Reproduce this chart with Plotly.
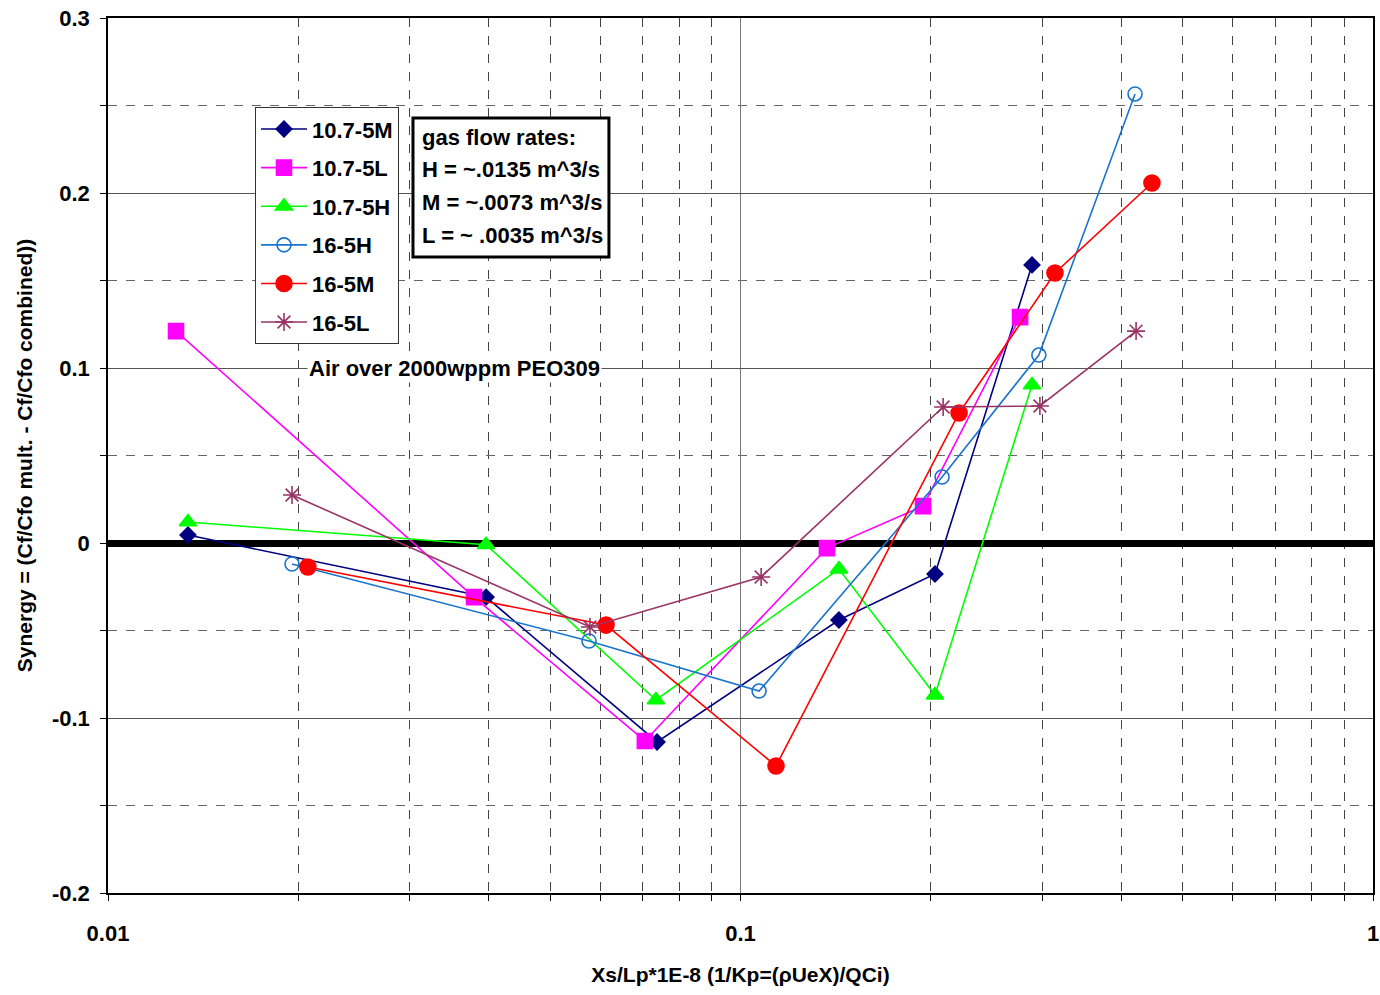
import plotly.graph_objects as go

# Synergy vs. nondimensional polymer-injection parameter, six test conditions
x_107_5M = [0.01338, 0.0396, 0.0738, 0.1431, 0.2030, 0.2890]
y_107_5M = [0.0046, -0.0309, -0.1137, -0.0440, -0.0177, 0.1589]

x_107_5L = [0.01281, 0.0379, 0.0706, 0.1370, 0.1944, 0.2767]
y_107_5L = [0.1211, -0.0309, -0.1131, -0.0029, 0.0211, 0.1291]

x_107_5H = [0.01338, 0.0396, 0.0735, 0.1431, 0.2030, 0.2890]
y_107_5H = [0.0120, -0.0010, -0.0897, -0.0149, -0.0869, 0.0903]

x_16_5H = [0.01954, 0.0576, 0.1070, 0.2083, 0.2963, 0.4205]
y_16_5H = [-0.0120, -0.0560, -0.0846, 0.0377, 0.1074, 0.2566]

x_16_5M = [0.0207, 0.0613, 0.1138, 0.2216, 0.3142, 0.4472]
y_16_5M = [-0.0137, -0.0469, -0.1274, 0.0743, 0.1543, 0.2057]

x_16_5L = [0.01954, 0.0578, 0.1078, 0.2091, 0.2974, 0.4221]
y_16_5L = [0.0274, -0.0480, -0.0194, 0.0777, 0.0783, 0.1211]

x_ticks = [0.01, 0.1, 1]
x_tick_labels = ["0.01", "0.1", "1"]
y_ticks = [-0.2, -0.1, 0, 0.1, 0.2, 0.3]
y_tick_labels = ["-0.2", "-0.1", "0", "0.1", "0.2", "0.3"]

flow_rate_lines = [
    "gas flow rates:",
    "H = ~.0135 m^3/s",
    "M = ~.0073 m^3/s",
    "L = ~ .0035 m^3/s",
]

FONT = "Liberation Sans, Arial, sans-serif"

series = [
    ("10.7-5M", x_107_5M, y_107_5M, "#000080", "diamond", 12),
    ("10.7-5L", x_107_5L, y_107_5L, "#FF00FF", "square", 15),
    ("10.7-5H", x_107_5H, y_107_5H, "#00FF00", "triangle-up", 15),
    ("16-5H", x_16_5H, y_16_5H, "#1874CD", "circle-open", 14),
    ("16-5M", x_16_5M, y_16_5M, "#FF0000", "circle", 16),
    ("16-5L", x_16_5L, y_16_5L, "#993366", "asterisk-open", 15),
]

fig = go.Figure()
for i, (name, xs, ys, color, symbol, size) in enumerate(series):
    fig.add_trace(go.Scatter(
        x=xs, y=ys, name=name, mode="lines+markers",
        legendgroup=f"g{i}",
        line=dict(color=color, width=1.6),
        marker=dict(symbol=symbol, size=size, color=color,
                    line=dict(color=color, width=1.6)),
    ))

fig.add_annotation(
    x=0.1573, xref="paper", y=0.1, yref="y",
    xanchor="left", yanchor="middle",
    text="Air over 2000wppm PEO309", showarrow=False,
    bgcolor="white", borderpad=1,
    font=dict(family=FONT, size=22, color="black", weight="bold"),
)

# boxed note on gas flow rates
fig.add_shape(
    type="rect", xref="paper", yref="paper",
    x0=0.2411, x1=0.3960, y0=0.7269, y1=0.8857,
    line=dict(color="black", width=3), fillcolor="white", layer="above",
)
for j, line_text in enumerate(flow_rate_lines):
    fig.add_annotation(
        x=0.2466, xref="paper", y=0.864 - j * 0.0377, yref="paper",
        xanchor="left", yanchor="middle", text=line_text, showarrow=False,
        font=dict(family=FONT, size=22, color="black", weight="bold"),
    )

fig.update_layout(
    width=1380, height=995,
    margin=dict(l=108, r=7, t=18, b=102),
    paper_bgcolor="white", plot_bgcolor="white",
    font=dict(family=FONT, size=22, color="black"),
    showlegend=True,
    legend=dict(
        x=0.1162, y=0.898, xanchor="left", yanchor="top",
        bgcolor="white", bordercolor="#333333", borderwidth=1,
        font=dict(family=FONT, size=22, color="black", weight="bold"),
        tracegroupgap=7, itemwidth=46,
    ),
    xaxis=dict(
        type="log", range=[-2, 0], automargin=False,
        tickvals=x_ticks, ticktext=x_tick_labels,
        ticks="outside", ticklen=6, tickcolor="black",
        ticklabelstandoff=14,
        tickfont=dict(family=FONT, size=22, color="black", weight="bold"),
        showgrid=True, gridcolor="#777777", gridwidth=1,
        minor=dict(dtick="D1", showgrid=True, gridcolor="#444444",
                   griddash="dash", gridwidth=1,
                   ticks="outside", ticklen=6, tickcolor="black"),
        showline=True, linecolor="black", linewidth=1.5, mirror=True,
        zeroline=False,
        title=dict(text="Xs/Lp*1E-8 (1/Kp=(ρUeX)/QCi)", standoff=22,
                   font=dict(family=FONT, size=21, color="black", weight="bold")),
    ),
    yaxis=dict(
        range=[-0.2, 0.3], automargin=False,
        tickvals=y_ticks, ticktext=y_tick_labels,
        ticks="outside", ticklen=6, tickcolor="black",
        ticklabelstandoff=6,
        tickfont=dict(family=FONT, size=22, color="black", weight="bold"),
        showgrid=True, gridcolor="#555555", gridwidth=1,
        minor=dict(dtick=0.05, showgrid=True, gridcolor="#666666",
                   griddash="dash", gridwidth=1,
                   ticks="outside", ticklen=6, tickcolor="black"),
        showline=True, linecolor="black", linewidth=1.5, mirror=True,
        zeroline=True, zerolinecolor="black", zerolinewidth=7,
        title=dict(text="Synergy = (Cf/Cfo mult. - Cf/Cfo combined))", standoff=14,
                   font=dict(family=FONT, size=21, color="black", weight="bold")),
    ),
)

fig.write_html("out.html")
